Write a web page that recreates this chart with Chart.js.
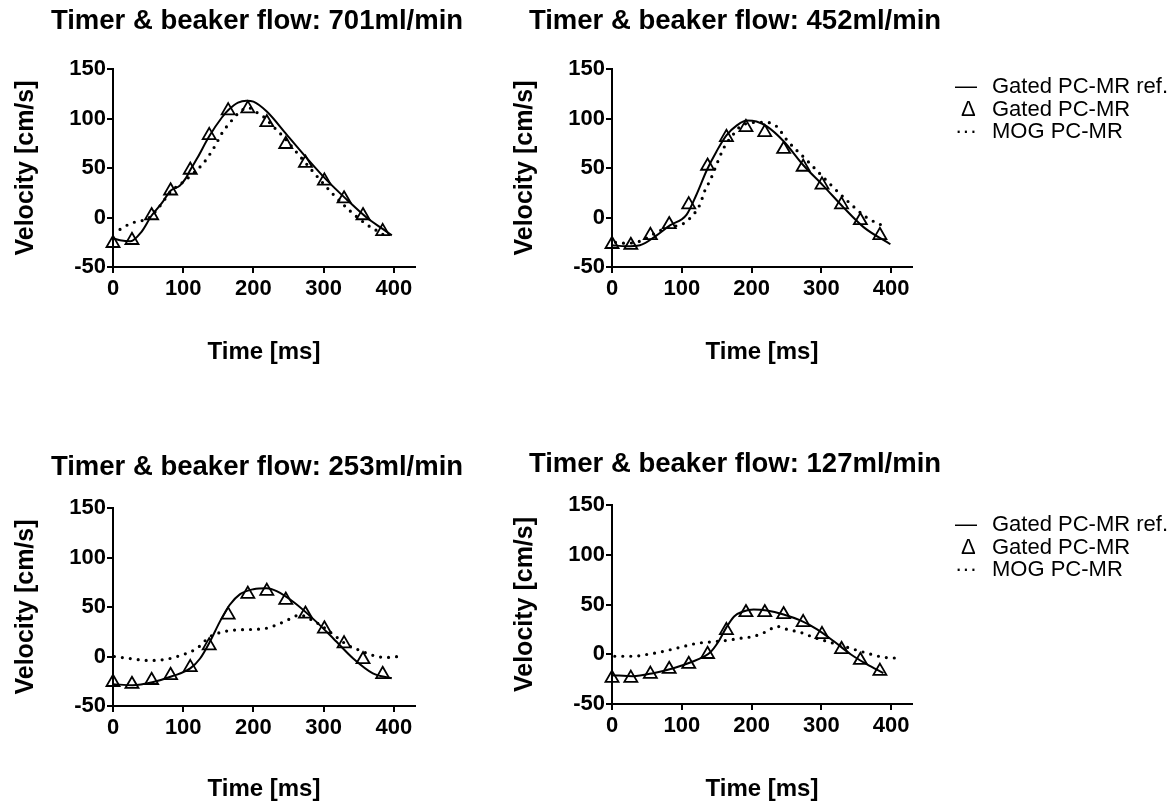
<!DOCTYPE html>
<html><head><meta charset="utf-8">
<script src="https://cdn.jsdelivr.net/npm/chart.js@4/dist/chart.umd.min.js"></script>
<style>
html,body{margin:0;padding:0;background:#fff;width:1173px;height:804px;overflow:hidden;position:relative;font-family:"Liberation Sans",Arial,sans-serif;}
canvas{position:absolute;}
.legend{position:absolute;left:955px;font-size:22px;line-height:22.5px;color:#000;white-space:nowrap;}
.legend .sym{display:inline-block;width:37px;text-align:left;}
</style></head><body>
<canvas id="c1"></canvas>
<canvas id="c2"></canvas>
<canvas id="c3"></canvas>
<canvas id="c4"></canvas>
<div class="legend" style="top:75px"><div><span class="sym">—</span>Gated PC-MR ref.</div><div><span class="sym">&nbsp;Δ</span>Gated PC-MR</div><div><span class="sym">···</span>MOG PC-MR</div></div>
<div class="legend" style="top:513px"><div><span class="sym">—</span>Gated PC-MR ref.</div><div><span class="sym">&nbsp;Δ</span>Gated PC-MR</div><div><span class="sym">···</span>MOG PC-MR</div></div>
<script>
// ---- data ----
const panelTitles = ["Timer & beaker flow: 701ml/min","Timer & beaker flow: 452ml/min","Timer & beaker flow: 253ml/min","Timer & beaker flow: 127ml/min"];
const seriesNames = ["Gated PC-MR ref.","Gated PC-MR","MOG PC-MR"];
const xTickValues = [0,100,200,300,400];
const yTickValues = [-50,0,50,100,150];
const xTitle = "Time [ms]";
const yTitle = "Velocity [cm/s]";

const gatedTimes = [0,27,55,82,110,137,164,192,219,246,274,301,329,356,384];

const p1GatedV = [-26,-23,2,27,48,83,108,110,96,74,55,37,19,2,-14];
const p1RefT = [0,10,25,40,55,70,82,95,104,110,120,137,155,165,178,190,200,219,247,276,304,333,361,385,397];
const p1RefV = [-21,-23,-24,-15,2,15,27,32,40,48,60,82,101,109,116,118,117,107,84,60,38,18,0,-12,-18];
const p1MogT = [10,25,35,50,65,82,100,115,130,145,155,169,181,192,205,214,228,242,266,290,314,337,361,375,389];
const p1MogV = [-12,-6,-4,-1,10,26,36,45,56,72,85,98,107,111,106,102,92,82,62,42,23,7,-7,-13,-19];

const p2GatedV = [-27,-28,-18,-7,13,52,81,91,86,69,51,33,13,-3,-18];
const p2RefT = [0,20,40,64,83,107,121,136,150,164,179,193,207,222,246,274,303,332,361,399];
const p2RefV = [-28,-29,-28,-18,-8,3,23,48,67,83,93,98,97,92,77,53,32,10,-10,-27];
const p2MogT = [5,20,40,64,80,100,110,126,133,141,148,160,175,184,205,222,236,251,279,308,337,365,394];
const p2MogV = [-25,-26,-24,-15,-10,-7,-2,13,27,38,50,70,85,92,96,96,92,78,58,37,17,0,-10];

const p3GatedV = [-26,-28,-24,-19,-11,11,42,63,66,57,43,28,13,-3,-18];
const p3RefT = [0,28,56,84,110,124,138,152,166,181,200,219,233,257,285,314,342,370,397];
const p3RefV = [-28,-29,-26,-20,-12,-2,15,35,52,63,68,69,66,55,38,18,-2,-17,-22];
const p3MogT = [2,23,50,74,100,119,138,157,181,214,233,252,266,280,295,314,333,352,371,389,406];
const p3MogV = [0,-2,-4,-3,2,8,20,25,27,28,32,38,42,38,32,22,12,6,1,-1,0];

const p4GatedV = [-24,-24,-20,-15,-10,0,24,42,42,40,32,20,5,-6,-17];
const p4RefT = [0,30,59,88,117,130,141,152,164,175,188,203,222,246,270,294,318,342,365,389];
const p4RefV = [-21,-22,-19,-14,-7,-3,2,12,27,38,43,45,44,40,34,25,13,0,-10,-19];
const p4MogT = [4,30,52,74,98,122,136,165,184,203,222,236,251,270,289,313,337,361,389,413];
const p4MogV = [-2,-2,0,3,7,11,12,14,16,18,23,28,25,22,17,12,7,2,-3,-4];

// ---- layout (pixel placement of each panel) ----
const FONT = '"Liberation Sans", Arial, sans-serif';
const Y_TITLE_SIZE = 25;
const panels = [
  {id:'c1', title:panelTitles[0], ref:[p1RefT,p1RefV], gated:p1GatedV, mog:[p1MogT,p1MogV],
   left:0, top:0, chartL:113, chartR:415, chartT:69, chartB:270, titleCX:257, titleCY:21, xTitleCY:353, yTitleCX:26},
  {id:'c2', title:panelTitles[1], ref:[p2RefT,p2RefV], gated:p2GatedV, mog:[p2MogT,p2MogV],
   left:499, top:0, chartL:612, chartR:912, chartT:69, chartB:270, titleCX:735, titleCY:21, xTitleCY:353, yTitleCX:525},
  {id:'c3', title:panelTitles[2], ref:[p3RefT,p3RefV], gated:p3GatedV, mog:[p3MogT,p3MogV],
   left:0, top:430, chartL:113, chartR:415, chartT:508, chartB:709, titleCX:257, titleCY:467, xTitleCY:790, yTitleCX:26},
  {id:'c4', title:panelTitles[3], ref:[p4RefT,p4RefV], gated:p4GatedV, mog:[p4MogT,p4MogV],
   left:499, top:430, chartL:612, chartR:912, chartT:505, chartB:707, titleCX:735, titleCY:464, xTitleCY:790, yTitleCX:525}
];

const toXY = (xs, ys) => xs.map((x,i)=>({x:x, y:ys[i]}));

// panel heading drawn on the chart canvas (no width squeezing)
const panelTitlePlugin = {
  id: 'panelTitle',
  afterDraw(chart, args, opts) {
    const ctx = chart.ctx;
    ctx.save();
    ctx.font = 'bold ' + opts.size + 'px ' + FONT;
    ctx.fillStyle = '#000';
    ctx.textAlign = 'center';
    ctx.textBaseline = 'middle';
    ctx.fillText(opts.text, opts.x, opts.y);
    ctx.restore();
  }
};

panels.forEach(p => {
  const cv = document.getElementById(p.id);
  const W = 470;
  const padR = W - (p.chartR - p.left);
  const H = Math.round(p.xTitleCY - p.top + 14.4 + 4);
  cv.width = W; cv.height = H;
  cv.style.left = p.left + 'px'; cv.style.top = p.top + 'px';
  cv.style.width = W + 'px'; cv.style.height = H + 'px';
  const xTitlePadTop = (H - (p.chartB - p.top)) - (6 + 3 + 26.4 + 28.8 + 4);
  const yScaleW = p.chartL - p.left;
  const yTitlePadTop = p.yTitleCX - p.left - Y_TITLE_SIZE * 0.6;

  new Chart(cv, {
    type: 'line',
    data: {
      datasets: [
        {label: seriesNames[0], data: toXY(p.ref[0], p.ref[1]), borderColor:'#000', borderWidth:2,
         pointRadius:0, cubicInterpolationMode:'monotone', fill:false, order:2},
        {label: seriesNames[1], data: toXY(gatedTimes, p.gated), showLine:false, pointStyle:'triangle',
         pointRadius:7.5, pointHoverRadius:7.5, pointBorderWidth:1.8, pointBorderColor:'#000',
         pointBackgroundColor:'rgba(255,255,255,0)', order:1},
        {label: seriesNames[2], data: toXY(p.mog[0], p.mog[1]), borderColor:'#000', borderWidth:3.2,
         borderDash:[0,8], borderCapStyle:'round', pointRadius:0, cubicInterpolationMode:'monotone', fill:false, order:3}
      ]
    },
    plugins: [panelTitlePlugin],
    options: {
      responsive:false, animation:false, clip:false,
      layout:{padding:{left:0, right:padR, top:p.chartT - p.top, bottom:0}},
      plugins:{
        legend:{display:false}, tooltip:{enabled:false}, title:{display:false},
        panelTitle:{text:p.title, x:p.titleCX - p.left, y:p.titleCY - p.top, size:27.5}
      },
      scales:{
        x:{type:'linear', min:0, max:430,
          afterBuildTicks: s => { s.ticks = xTickValues.map(v=>({value:v})); },
          ticks:{color:'#000', padding:3, font:{family:FONT, size:22, weight:'bold'}},
          grid:{drawOnChartArea:false, drawTicks:true, tickLength:6, color:'#000', lineWidth:2},
          border:{display:true, color:'#000', width:2},
          title:{display:true, text:xTitle, color:'#000', font:{family:FONT, size:24, weight:'bold', lineHeight:1.2},
            padding:{top:xTitlePadTop, bottom:4}}
        },
        y:{type:'linear', min:-50, max:150,
          afterBuildTicks: s => { s.ticks = yTickValues.map(v=>({value:v})); },
          afterFit: s => { s.width = yScaleW; },
          ticks:{color:'#000', padding:1, font:{family:FONT, size:22, weight:'bold'}},
          grid:{drawOnChartArea:false, drawTicks:true, tickLength:6, color:'#000', lineWidth:2},
          border:{display:true, color:'#000', width:2},
          title:{display:true, text:yTitle, color:'#000', font:{family:FONT, size:Y_TITLE_SIZE, weight:'bold', lineHeight:1.2},
            padding:{top:yTitlePadTop, bottom:0}}
        }
      }
    }
  });
});
</script>
</body></html>
